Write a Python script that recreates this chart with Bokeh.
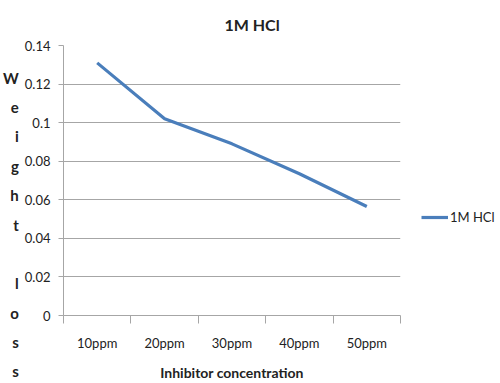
from bokeh.plotting import figure
from bokeh.models import FixedTicker, Legend, LegendItem, Range1d, Title
from bokeh.embed import file_html
from bokeh.resources import INLINE

categories = ["10ppm", "20ppm", "30ppm", "40ppm", "50ppm"]
weight_loss = [0.131, 0.102, 0.089, 0.0735, 0.0565]
series_name = "1M HCl"
y_ticks = [0, 0.02, 0.04, 0.06, 0.08, 0.1, 0.12, 0.14]
y_tick_labels = ["0", "0.02", "0.04", "0.06", "0.08", "0.1", "0.12", "0.14"]
y_label_letters = ["W", "e", "i", "g", "h", "t", " ", "l", "o", "s", "s"]

FONT = "Lato"
GRID = "#a6a6a6"
BLUE = "#4a7ebb"
TXT = "#222222"

xs = [i + 0.5 for i in range(len(categories))]
bounds = list(range(len(categories) + 1))

p = figure(width=484, height=367, frame_width=337, frame_height=270,
           output_backend="svg", toolbar_location=None,
           x_range=Range1d(0, len(categories)), y_range=Range1d(0, 0.14),
           min_border_left=55, min_border_right=92, min_border_top=43, min_border_bottom=54)
p.outline_line_color = None
p.background_fill_color = "white"
p.border_fill_color = "white"

p.title = Title(text=series_name, align="left", text_font=FONT,
                text_font_size="16px", text_font_style="bold", text_color=TXT,
                offset=161, standoff=24)

r = p.line(xs, weight_loss, line_color=BLUE, line_width=3.2)

# x axis
xa = p.xaxis[0]
xa.ticker = FixedTicker(ticks=xs, minor_ticks=bounds)
xa.major_label_overrides = {x: c for x, c in zip(xs, categories)}
xa.major_tick_line_color = None
xa.major_tick_out = 0
xa.minor_tick_out = 8
xa.minor_tick_in = 0
xa.minor_tick_line_color = GRID
xa.axis_line_color = GRID
xa.major_label_standoff = 11
xa.major_label_text_font = FONT
xa.major_label_text_font_size = "13px"
xa.major_label_text_color = TXT
xa.axis_label = "Inhibitor concentration"
xa.axis_label_text_font = FONT
xa.axis_label_text_font_size = "14px"
xa.axis_label_text_font_style = "bold"
xa.axis_label_text_color = TXT
xa.axis_label_standoff = 10

# y axis
ya = p.yaxis[0]
ya.ticker = FixedTicker(ticks=y_ticks)
ya.major_label_overrides = {t: s for t, s in zip(y_ticks, y_tick_labels)}
ya.major_tick_out = 5
ya.major_tick_in = 0
ya.major_tick_line_color = GRID
ya.minor_tick_line_color = None
ya.axis_line_color = GRID
ya.major_label_standoff = 8
ya.major_label_text_font = FONT
ya.major_label_text_font_size = "13px"
ya.major_label_text_color = TXT
ya.axis_label = "\n\n\n" + "\n".join(y_label_letters)
ya.axis_label_orientation = "horizontal"
ya.axis_label_text_font = FONT
ya.axis_label_text_font_size = "15px"
ya.axis_label_text_font_style = "bold"
ya.axis_label_text_color = TXT
ya.axis_label_text_line_height = 1.63
ya.axis_label_standoff = 3

p.xgrid.grid_line_color = None
p.ygrid.grid_line_color = GRID
p.ygrid.grid_line_width = 1

legend = Legend(items=[LegendItem(label=series_name, renderers=[r])],
                location=(21, 88), border_line_color=None, background_fill_alpha=0,
                padding=0, margin=0, glyph_width=27, label_standoff=2,
                label_text_font=FONT, label_text_font_size="13px", label_text_color=TXT)
p.add_layout(legend, "right")

open("out.html", "w").write(file_html(p, INLINE))
